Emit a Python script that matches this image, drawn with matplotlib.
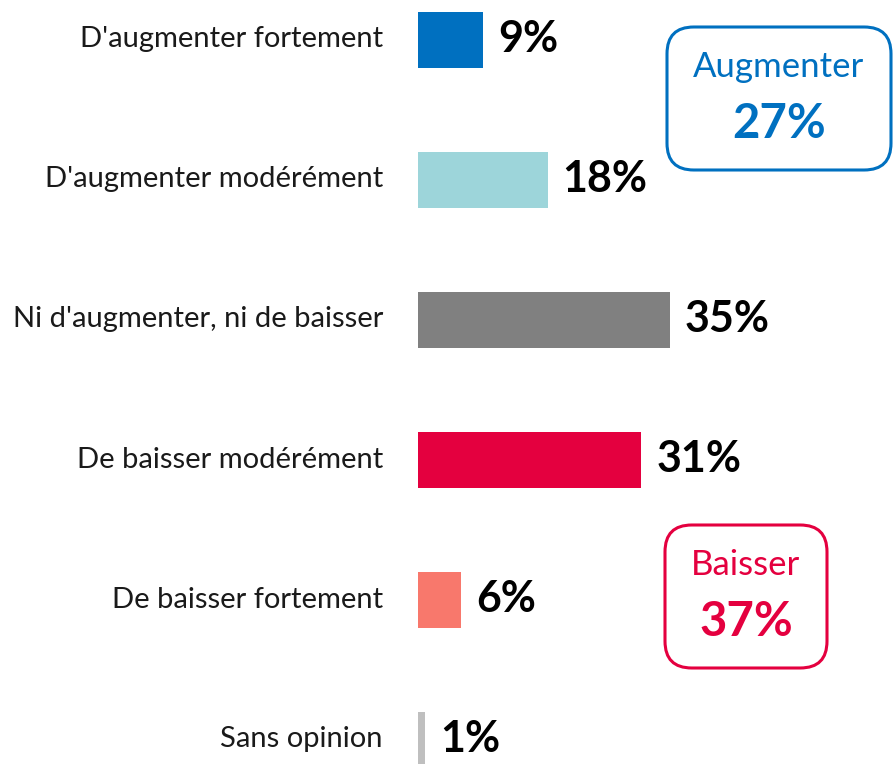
import matplotlib.pyplot as plt
from matplotlib.patches import FancyBboxPatch

# Data
categories = ["D'augmenter fortement", "D'augmenter modérément",
              "Ni d'augmenter, ni de baisser", "De baisser modérément",
              "De baisser fortement", "Sans opinion"]
values = [9, 18, 35, 31, 6, 1]
colors = ["#0070C0", "#9DD5DA", "#808080", "#E4003F", "#F8786C", "#BFBFBF"]

summary_labels = ["Augmenter", "Baisser"]
summary_values = [27, 37]
summary_colors = ["#0070C0", "#E4003F"]

plt.rcParams['font.family'] = ['Lato', 'DejaVu Sans']

W, H = 893, 764
PX_PER_PCT = 7.2
X0 = 418      # pixel where bars start
Y0 = 39.5     # pixel center of first bar
STEP = 140    # pixels between bars

fig = plt.figure(figsize=(W / 100, H / 100), dpi=100)
ax = fig.add_axes([0, 0, 1, 1])
ax.set_xlim(-X0 / PX_PER_PCT, (W - X0) / PX_PER_PCT)
ax.set_ylim((H - Y0) / STEP, -Y0 / STEP)
ax.axis('off')

ypos = list(range(len(categories)))
ax.barh(ypos, values, height=0.4, color=colors)

for y, cat, v in zip(ypos, categories, values):
    ax.text(-35 / PX_PER_PCT, y, cat, ha='right', va='center', fontsize=21, color='#1a1a1a')
    ax.text(v + 15 / PX_PER_PCT, y, f"{v}%", ha='left', va='center',
            fontsize=31, fontweight='bold', color='black')

# Summary boxes (pixel rectangles converted to figure fraction)
boxes = [(667, 27, 224, 143), (665, 525, 162, 143)]
for (bx, by, bw, bh), lab, val, col in zip(boxes, summary_labels, summary_values, summary_colors):
    patch = FancyBboxPatch((bx / W, 1 - (by + bh) / H), bw / W, bh / H,
                           boxstyle="round,pad=0,rounding_size=0.03",
                           transform=fig.transFigure, fill=False,
                           edgecolor=col, linewidth=2.2, mutation_aspect=W / H)
    fig.add_artist(patch)
    cx = (bx + bw / 2) / W
    fig.text(cx, 1 - (by + 40) / H, lab, ha='center', va='center', fontsize=25, color=col)
    fig.text(cx, 1 - (by + 97) / H, f"{val}%", ha='center', va='center',
             fontsize=34, fontweight='bold', color=col)

fig.savefig("out.png", dpi=100)
